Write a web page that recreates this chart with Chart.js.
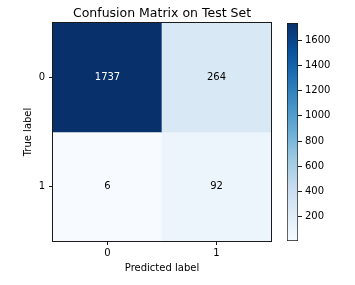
<!DOCTYPE html>
<html>
<head>
<meta charset="utf-8">
<script src="https://cdn.jsdelivr.net/npm/chart.js@4/dist/chart.umd.min.js"></script>
<style>
  html, body { margin: 0; padding: 0; background: #fff; }
  #wrap { position: relative; width: 355px; height: 285px; }
  canvas { position: absolute; left: 0; top: 0; }
</style>
</head>
<body>
<div id="wrap">
  <canvas id="main" width="355" height="285"></canvas>
  <canvas id="cbar" width="355" height="285"></canvas>
</div>
<script>
// ---- data ----
const chartTitle = 'Confusion Matrix on Test Set';
const predictedLabels = ['0', '1'];
const trueLabels = ['0', '1'];
const rowTrue0 = [1737, 264];
const rowTrue1 = [6, 92];
const colorbarTicks = [200, 400, 600, 800, 1000, 1200, 1400, 1600];

// ---- styling helpers ----
const FONT = 'DejaVu Sans';
const BLUES = ['#f7fbff', '#deebf7', '#c6dbef', '#9ecae1', '#6baed6', '#4292c6', '#2171b5', '#08519c', '#08306b'];
const rows = [rowTrue0, rowTrue1];
const allVals = rows.flat();
const vMin = Math.min(...allVals);
const vMax = Math.max(...allVals);

function hexToRgb(h) {
  return [parseInt(h.slice(1, 3), 16), parseInt(h.slice(3, 5), 16), parseInt(h.slice(5, 7), 16)];
}
function blues(t) {
  t = Math.max(0, Math.min(1, t));
  const p = t * (BLUES.length - 1);
  const i = Math.min(Math.floor(p), BLUES.length - 2);
  const f = p - i;
  const a = hexToRgb(BLUES[i]), b = hexToRgb(BLUES[i + 1]);
  const c = a.map((v, k) => Math.round(v + (b[k] - v) * f));
  return `rgb(${c[0]},${c[1]},${c[2]})`;
}
function colorFor(v) { return blues((v - vMin) / (vMax - vMin)); }

Chart.defaults.color = '#000';
Chart.defaults.font.family = FONT;
Chart.defaults.font.size = 10;
Chart.defaults.animation = false;

const frame = {
  id: 'frame',
  afterDatasetsDraw(chart) {
    const { ctx, chartArea: a } = chart;
    ctx.save();
    ctx.strokeStyle = '#1a1a1a';
    ctx.lineWidth = 1;
    ctx.strokeRect(a.left - 0.5, a.top - 0.5, a.right - a.left + 1, a.bottom - a.top + 1);
    ctx.restore();
  }
};

const cellText = {
  id: 'cellText',
  afterDatasetsDraw(chart) {
    const { ctx } = chart;
    const thresh = vMax / 2;
    ctx.save();
    ctx.font = `10px "${FONT}"`;
    ctx.textAlign = 'center';
    ctx.textBaseline = 'middle';
    chart.data.datasets.forEach((ds, di) => {
      const meta = chart.getDatasetMeta(di);
      meta.data.forEach((el, j) => {
        const v = rows[di][j];
        const { x, y, base } = el.getProps(['x', 'y', 'base'], true);
        ctx.fillStyle = v > thresh ? '#fff' : '#000';
        ctx.fillText(String(v), x, (y + base) / 2);
      });
    });
    ctx.restore();
  }
};

new Chart(document.getElementById('main'), {
  type: 'bar',
  data: {
    labels: predictedLabels,
    datasets: rows.map((r, i) => ({
      label: 'True ' + trueLabels[i],
      data: r.map(() => [i - 0.5, i + 0.5]),
      backgroundColor: r.map(colorFor),
      borderWidth: 0,
      barPercentage: 1,
      categoryPercentage: 1,
      grouped: false
    }))
  },
  options: {
    responsive: false,
    layout: { padding: { left: 0, right: 84, top: 0, bottom: 0 } },
    plugins: {
      legend: { display: false },
      tooltip: { enabled: false },
      title: {
        display: true,
        text: chartTitle,
        fullSize: false,
        font: { family: FONT, size: 12.5, weight: 'normal' },
        color: '#000',
        padding: { top: 6.5, bottom: 1.5 }
      }
    },
    scales: {
      x: {
        type: 'category',
        offset: true,
        grid: { offset: false, drawOnChartArea: false, drawTicks: true, tickLength: 4, color: '#1a1a1a' },
        border: { display: false },
        ticks: { padding: 2, maxRotation: 0, font: { family: FONT, size: 10 } },
        title: { display: true, text: 'Predicted label', font: { family: FONT, size: 10 }, padding: { top: 0, bottom: 11 } },
        afterFit(s) { s.height = 44; }
      },
      y: {
        type: 'linear',
        min: -0.5,
        max: 1.5,
        reverse: true,
        afterBuildTicks(s) { s.ticks = trueLabels.map((_, i) => ({ value: i })); },
        grid: { drawOnChartArea: false, drawTicks: true, tickLength: 4, color: '#1a1a1a' },
        border: { display: false },
        ticks: { padding: 4, callback: (v) => trueLabels[v], font: { family: FONT, size: 10 } },
        title: { display: true, text: 'True label', font: { family: FONT, size: 10 }, padding: { top: 22, bottom: 0 } },
        afterFit(s) { s.width = 53; }
      }
    }
  },
  plugins: [cellText, frame]
});

new Chart(document.getElementById('cbar'), {
  type: 'bar',
  data: {
    labels: ['cb'],
    datasets: [{
      data: [[vMin, vMax]],
      backgroundColor(c) {
        const { chart } = c;
        const a = chart.chartArea;
        if (!a) return BLUES[0];
        const g = chart.ctx.createLinearGradient(0, a.bottom, 0, a.top);
        BLUES.forEach((col, i) => g.addColorStop(i / (BLUES.length - 1), col));
        return g;
      },
      borderColor: '#1a1a1a',
      borderWidth: 1,
      borderSkipped: false,
      barPercentage: 1,
      categoryPercentage: 1
    }]
  },
  options: {
    responsive: false,
    layout: { padding: { left: 287, right: 0, top: 23, bottom: 44 } },
    plugins: { legend: { display: false }, tooltip: { enabled: false } },
    scales: {
      x: { display: false },
      y: {
        position: 'right',
        min: vMin,
        max: vMax,
        afterBuildTicks(s) { s.ticks = colorbarTicks.map(v => ({ value: v })); },
        grid: { drawOnChartArea: false, drawTicks: true, tickLength: 4, color: '#1a1a1a' },
        border: { display: false },
        ticks: { padding: 3, callback: (v) => String(v), font: { family: FONT, size: 10 } },
        afterFit(s) { s.width = 57; }
      }
    }
  }
});
</script>
</body>
</html>
